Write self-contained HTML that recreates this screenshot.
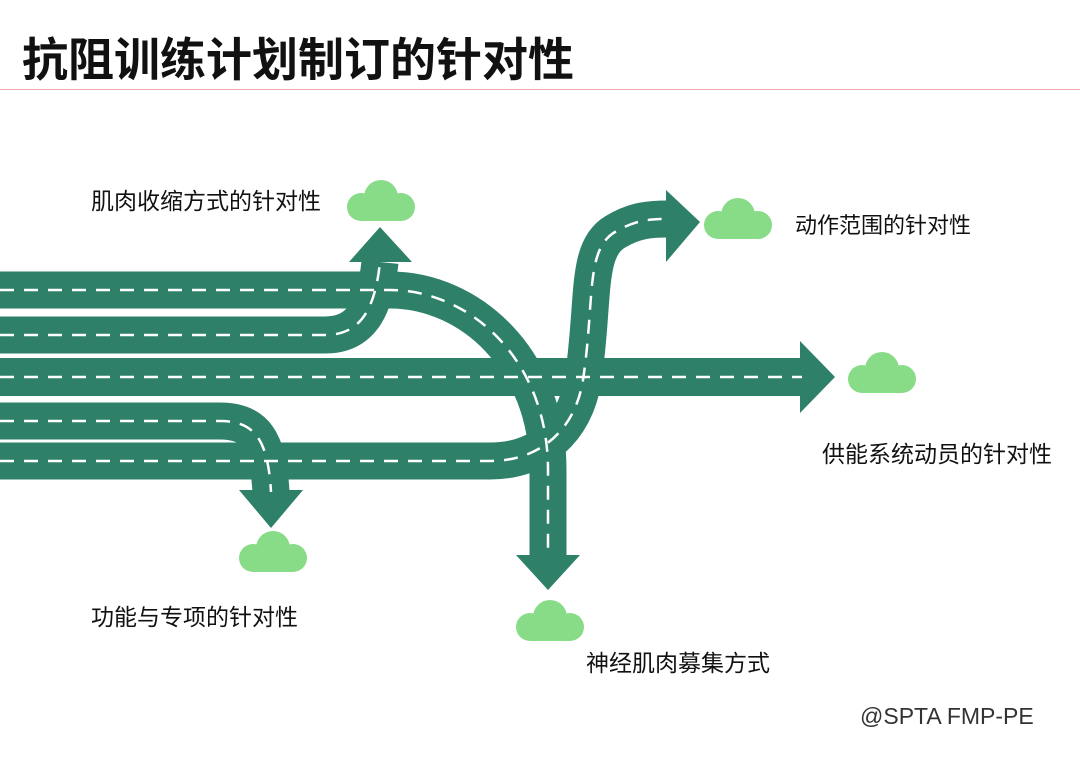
<!DOCTYPE html>
<html><head><meta charset="utf-8"><style>
body{margin:0;width:1080px;height:763px;background:#fff;overflow:hidden;position:relative;font-family:"Liberation Sans","Noto Sans CJK SC",sans-serif}
.t{position:absolute;white-space:nowrap;color:#111}
</style></head><body>
<div class="t" style="left:22px;top:24px;font-size:46px;font-weight:bold;color:#111">抗阻训练计划制订的针对性</div>
<div style="position:absolute;left:0;top:89px;width:1080px;height:1px;background:#f2a8a8"></div>
<svg width="1080" height="763" style="position:absolute;left:0;top:0">
<defs>
<g id="cl"><circle cx="0" cy="0" r="17"/><circle cx="-20" cy="10" r="14"/><circle cx="20" cy="10" r="14"/><rect x="-20" y="6" width="40" height="18"/></g>
</defs>
<g fill="#88dc88">
<use href="#cl" x="381" y="197"/>
<use href="#cl" x="738" y="215"/>
<use href="#cl" x="882" y="369"/>
<use href="#cl" x="273" y="548"/>
<use href="#cl" x="550" y="617"/>
</g>
<g fill="none" stroke="#2e8069" stroke-width="37">
<path d="M0,461 H490 C540,461 575,430 583,380 C595,300 585,250 615,232 C635,220 650,219 668,219"/>
<path d="M0,290 H390 C470,290 548,360 548,470 V556"/>
<path d="M0,335 H325 C360,335 375,310 380,262"/>
<path d="M0,421 H220 C255,421 268,440 271,492"/>
<path d="M0,377 H802" stroke-width="38"/>
</g>
<g fill="#2e8069">
<polygon points="516,555 580,555 548,590"/>
<polygon points="349,262 412,262 380,227"/>
<polygon points="800,341 800,413 835,377"/>
<polygon points="239,490 303,490 271,528"/>
<polygon points="666,190 666,262 700,222"/>
</g>
<g fill="none" stroke="#fff" stroke-width="2.5" stroke-dasharray="14,10">
<path d="M0,461 H490 C540,461 575,430 583,380 C595,300 585,250 615,232 C635,220 650,219 668,219"/>
<path d="M0,290 H390 C470,290 548,360 548,470 V556"/>
<path d="M0,335 H325 C360,335 375,310 380,262"/>
<path d="M0,421 H220 C255,421 268,440 271,492"/>
<path d="M0,377 H802"/>
</g>
</svg>
<div class="t" style="left:91px;top:182px;font-size:23px">肌肉收缩方式的针对性</div>
<div class="t" style="left:795px;top:208px;font-size:22px">动作范围的针对性</div>
<div class="t" style="left:822px;top:435px;font-size:23px">供能系统动员的针对性</div>
<div class="t" style="left:91px;top:598px;font-size:23px">功能与专项的针对性</div>
<div class="t" style="left:586px;top:644px;font-size:23px">神经肌肉募集方式</div>
<div class="t" style="left:860px;top:703px;font-size:23px;color:#333">@SPTA FMP-PE</div>
</body></html>
